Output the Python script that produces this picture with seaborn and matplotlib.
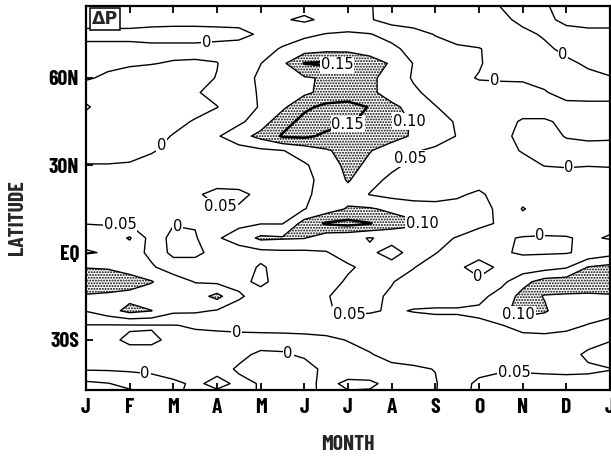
import numpy as np
import matplotlib
matplotlib.use("Agg")
import matplotlib.pyplot as plt
import seaborn as sns

# Axis annotations
month_labels = ["J", "F", "M", "A", "M", "J", "J", "A", "S", "O", "N", "D", "J"]
month_ticks = np.arange(13)
lat_ticks = [60, 30, 0, -30]
lat_labels = ["60N", "30N", "EQ", "30S"]

# Analysis grid: half-month columns, 5-degree latitude rows (85N -> 50S)
grid_months = np.arange(0, 12.01, 0.5)
grid_lats = np.arange(85, -51, -5)

contour_levels = [0.0, 0.05, 0.10, 0.15]
level_text = {0.0: "0", 0.05: "0.05", 0.10: "0.10", 0.15: "0.15"}
level_widths = {0.0: 1.0, 0.05: 1.0, 0.10: 1.0, 0.15: 1.8}

# Delta-P by latitude band, one row per latitude (Jan ... Jan, every half month)
dp_polar_north = [
    [0.02, 0.02, 0.02, 0.02, 0.02, 0.02, 0.02, 0.02, 0.02, 0.02, 0.02, 0.02, 0.02, 0.003, -0.02, -0.02, -0.02, -0.02, -0.02, 0.002, 0.02, 0.005, -0.02, -0.02, -0.02],
    [0.015, 0.015, 0.015, 0.012, 0.01, 0.01, 0.01, 0.01, 0.015, 0.005, -0.008, 0.01, 0.02, 0.004, -0.02, -0.02, -0.02, -0.02, -0.02, -0.01, 0.01, 0.01, -0.01, -0.02, -0.02],
    [-0.01, -0.01, -0.01, -0.012, -0.012, -0.012, -0.01, -0.008, 0.004, 0.025, 0.04, 0.052, 0.056, 0.052, 0.035, 0.015, -0.002, -0.02, -0.025, -0.025, -0.01, 0.005, 0.015, 0.015, 0.015],
    [0.01, 0.01, 0.01, 0.008, 0.008, 0.008, 0.01, 0.012, 0.03, 0.055, 0.075, 0.085, 0.085, 0.08, 0.06, 0.035, 0.015, 0.008, 0.002, -0.015, -0.02, -0.008, 0.01, 0.015, 0.015],
    [0.004, 0.004, 0.003, 0.001, -0.002, -0.003, -0.001, 0.02, 0.049, 0.09, 0.152, 0.158, 0.152, 0.12, 0.095, 0.048, 0.02, 0.01, 0.003, -0.015, -0.02, -0.02, -0.008, 0.006, 0.012],
]
dp_midlat_north = [
    [0.002, -0.003, -0.01, -0.012, -0.012, -0.008, 0.001, 0.025, 0.06, 0.085, 0.095, 0.105, 0.115, 0.11, 0.08, 0.045, 0.02, 0.008, -0.002, -0.003, -0.003, -0.008, -0.015, -0.01, -0.002],
    [-0.01, -0.015, -0.018, -0.018, -0.015, -0.003, 0.01, 0.03, 0.055, 0.075, 0.09, 0.115, 0.125, 0.11, 0.08, 0.058, 0.035, 0.02, 0.012, 0.01, 0.008, 0.002, -0.01, -0.012, -0.012],
    [0.003, -0.012, -0.018, -0.02, -0.018, -0.012, -0.001, 0.02, 0.055, 0.09, 0.14, 0.162, 0.165, 0.148, 0.11, 0.085, 0.052, 0.03, 0.02, 0.015, 0.012, 0.012, 0.008, 0.008, 0.008],
    [-0.01, -0.015, -0.02, -0.018, -0.01, 0.003, 0.02, 0.04, 0.075, 0.13, 0.165, 0.17, 0.155, 0.14, 0.12, 0.095, 0.07, 0.045, 0.025, 0.01, -0.003, -0.003, 0.005, 0.005, 0.005],
    [-0.015, -0.02, -0.02, -0.012, 0.002, 0.02, 0.045, 0.08, 0.115, 0.155, 0.16, 0.14, 0.125, 0.12, 0.115, 0.095, 0.075, 0.048, 0.025, 0.01, -0.01, -0.012, 0.002, 0.005, 0.004],
    [-0.02, -0.02, -0.015, -0.003, 0.01, 0.02, 0.025, 0.03, 0.04, 0.048, 0.07, 0.095, 0.115, 0.102, 0.08, 0.055, 0.04, 0.03, 0.02, 0.01, -0.002, -0.012, -0.012, -0.01, -0.01],
    [0.002, 0.002, 0.004, 0.012, 0.02, 0.025, 0.025, 0.025, 0.03, 0.035, 0.045, 0.07, 0.115, 0.09, 0.06, 0.04, 0.03, 0.025, 0.02, 0.015, 0.01, -0.001, -0.002, -0.001, -0.002],
]
dp_tropics = [
    [0.02, 0.02, 0.02, 0.025, 0.03, 0.035, 0.035, 0.03, 0.03, 0.035, 0.042, 0.06, 0.105, 0.065, 0.04, 0.03, 0.025, 0.028, 0.035, 0.025, 0.02, 0.015, 0.01, 0.012, 0.012],
    [0.02, 0.02, 0.025, 0.03, 0.035, 0.045, 0.06, 0.06, 0.04, 0.035, 0.045, 0.06, 0.08, 0.048, 0.035, 0.03, 0.035, 0.045, 0.056, 0.035, 0.02, 0.02, 0.02, 0.015, 0.015],
    [0.025, 0.028, 0.03, 0.035, 0.04, 0.045, 0.048, 0.045, 0.04, 0.04, 0.048, 0.075, 0.105, 0.105, 0.09, 0.075, 0.065, 0.062, 0.058, 0.045, -0.003, 0.02, 0.02, 0.02, 0.02],
    [0.049, 0.047, 0.045, 0.03, 0.003, 0.004, 0.025, 0.04, 0.048, 0.048, 0.12, 0.155, 0.165, 0.152, 0.125, 0.11, 0.085, 0.07, 0.06, 0.045, 0.02, 0.015, 0.015, 0.015, 0.01],
    [0.07, 0.07, 0.105, 0.03, -0.015, -0.005, 0.045, 0.07, 0.11, 0.105, 0.102, 0.07, 0.06, 0.048, 0.06, 0.065, 0.06, 0.048, 0.03, 0.004, -0.002, -0.003, -0.002, 0.005, -0.003],
    [0.045, 0.055, 0.07, 0.04, -0.015, -0.01, 0.015, 0.03, 0.035, 0.04, 0.04, 0.048, 0.065, 0.055, 0.04, 0.06, 0.052, 0.03, 0.01, 0.004, -0.004, -0.004, -0.003, 0.01, 0.03],
    [0.098, 0.095, 0.08, 0.055, 0.03, 0.02, 0.02, 0.03, 0.055, 0.035, 0.03, 0.035, 0.045, 0.06, 0.06, 0.052, 0.03, 0.005, -0.01, 0.005, 0.02, 0.03, 0.045, 0.102, 0.115],
    [0.13, 0.13, 0.12, 0.103, 0.07, 0.048, 0.04, 0.04, 0.058, 0.035, 0.03, 0.035, 0.055, 0.06, 0.052, 0.035, 0.02, 0.01, 0.005, 0.035, 0.085, 0.12, 0.125, 0.13, 0.13],
    [0.095, 0.09, 0.085, 0.075, 0.07, 0.075, 0.115, 0.055, 0.035, 0.03, 0.035, 0.048, 0.06, 0.058, 0.045, 0.035, 0.03, 0.03, 0.035, 0.07, 0.115, 0.098, 0.095, 0.092, 0.095],
    [0.052, 0.08, 0.115, 0.101, 0.06, 0.058, 0.046, 0.035, 0.03, 0.03, 0.035, 0.045, 0.06, 0.055, 0.045, 0.052, 0.055, 0.055, 0.06, 0.085, 0.12, 0.105, 0.075, 0.07, 0.065],
]
dp_south = [
    [-0.002, -0.003, -0.003, -0.002, -0.001, 0.003, 0.005, 0.007, 0.008, 0.009, 0.01, 0.012, 0.02, 0.025, 0.03, 0.03, 0.035, 0.035, 0.04, 0.048, 0.065, 0.07, 0.06, 0.048, 0.035],
    [-0.008, -0.005, 0.004, 0.004, -0.005, -0.008, -0.008, -0.008, -0.008, -0.008, -0.007, -0.005, 0.001, 0.01, 0.015, 0.02, 0.025, 0.03, 0.03, 0.03, 0.035, 0.035, 0.035, 0.04, 0.048],
    [-0.01, -0.01, -0.008, -0.008, -0.01, -0.01, -0.008, -0.004, 0.003, 0.002, -0.003, -0.008, -0.008, -0.002, 0.01, 0.015, 0.02, 0.025, 0.03, 0.03, 0.032, 0.035, 0.04, 0.055, 0.065],
    [-0.005, -0.006, -0.008, -0.01, -0.012, -0.01, -0.006, 0.002, 0.01, 0.012, 0.008, -0.005, -0.01, -0.01, -0.008, -0.005, 0.001, 0.02, 0.035, 0.045, 0.045, 0.045, 0.045, 0.046, 0.049],
    [0.06, 0.052, 0.035, 0.02, 0.005, -0.004, 0.006, -0.004, 0.001, 0.01, 0.006, -0.005, 0.004, 0.003, -0.005, -0.008, -0.003, 0.03, 0.06, 0.065, 0.065, 0.06, 0.058, 0.058, 0.06],
    [0.08, 0.075, 0.075, 0.06, 0.003, -0.006, -0.01, -0.008, 0.002, 0.012, 0.008, -0.006, -0.005, -0.005, -0.008, -0.008, -0.002, 0.03, 0.065, 0.07, 0.07, 0.065, 0.065, 0.065, 0.065],
]

dp = np.array(dp_polar_north + dp_midlat_north + dp_tropics + dp_south)

sns.set_theme(style="ticks")
narrow_bold = ["Barlow Condensed", "Archivo Narrow", "DejaVu Sans"]
plt.rcParams["font.family"] = ["DejaVu Sans"]
plt.rcParams["hatch.color"] = "black"
plt.rcParams["hatch.linewidth"] = 0.95

fig = plt.figure(figsize=(6.11, 4.57), dpi=100)
ax = fig.add_axes([86 / 611, 1 - 390 / 457, (610 - 86) / 611, (390 - 6) / 457])

# Stippled area for values above 0.10
stipple = ax.contourf(grid_months, grid_lats, dp, levels=[0.10, 1.0],
                      colors="none", hatches=["......"])
stipple.set_edgecolor("black")
stipple.set_linewidth(0)
if hasattr(stipple, "set_hatchcolor"):
    stipple.set_hatchcolor("black")

label_spots = {
    0.0: [(2.77, 71.5), (1.76, 36.4), (9.35, 58.4), (10.9, 67.4), (11.06, 29.2),
          (2.1, 8.6), (10.4, 4.5), (8.96, -8.6), (3.45, -26.8), (4.6, -36.0),
          (1.35, -42.3)],
    0.05: [(7.4, 32.6), (3.1, 13.7), (0.78, 10.6), (6.03, -22.0), (9.8, -41.9)],
    0.10: [(7.86, 46.4), (7.86, 10.6), (9.92, -20.6)],
    0.15: [(5.76, 63.6), (6.03, 42.3)],
}
for lev in contour_levels:
    cs = ax.contour(grid_months, grid_lats, dp, levels=[lev],
                    colors="black", linewidths=level_widths[lev])
    texts = ax.clabel(cs, manual=label_spots[lev], fmt=level_text,
                      fontsize=10.5, inline=False)
    for t in texts:
        t.set_rotation(0)
        t.set_bbox(dict(boxstyle="square,pad=0.05", fc="white", ec="none"))
        t.set_zorder(4)

ax.set_xlim(0, 12)
ax.set_ylim(-47.2, 84.7)
ax.set_xticks(month_ticks)
ax.set_xticklabels(month_labels)
ax.set_yticks(lat_ticks)
ax.set_yticklabels(lat_labels)
ax.tick_params(axis="both", direction="in", length=5, width=1.3,
               top=True, right=False, labelsize=15.5, colors="black")
ax.tick_params(axis="x", pad=6)
ax.tick_params(axis="y", pad=5)
for lab in ax.get_xticklabels() + ax.get_yticklabels():
    lab.set_family(narrow_bold)
    lab.set_fontweight("bold")
for sp in ax.spines.values():
    sp.set_linewidth(1.6)
    sp.set_color("black")

ax.text(0.011, 0.99, "ΔP", transform=ax.transAxes, ha="left", va="top",
        fontsize=12.5, fontweight="bold",
        bbox=dict(boxstyle="square,pad=0.12", fc="white", ec="black", lw=1.1),
        zorder=6)

fig.text(18 / 611, 1 - 218 / 457, "LATITUDE", rotation=90, ha="center",
         va="center", fontsize=15.5, fontweight="bold", family=narrow_bold)
fig.text(348 / 611, 1 - 445 / 457, "MONTH", ha="center", va="center",
         fontsize=15.5, fontweight="bold", family=narrow_bold)

fig.savefig("out.png", dpi=100)
